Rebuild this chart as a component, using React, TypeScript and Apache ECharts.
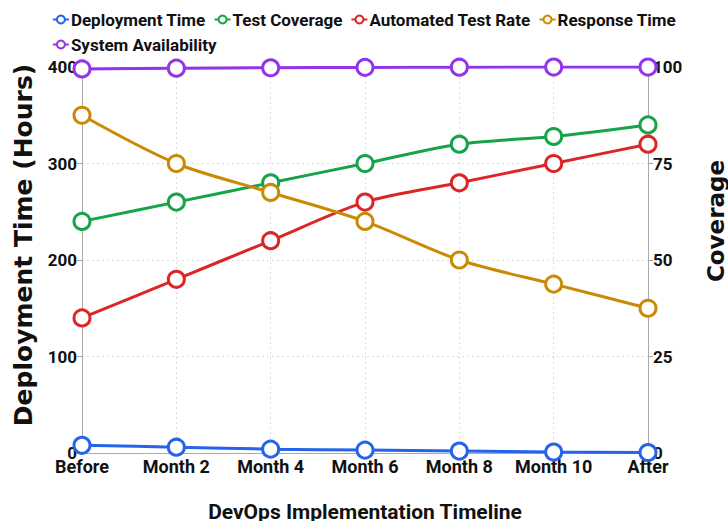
import React, { useEffect, useRef } from "react";
import * as echarts from "echarts";

// Timeline categories
const categories = ["Before", "Month 2", "Month 4", "Month 6", "Month 8", "Month 10", "After"];

// Left axis series (hours / ms scale 0-400)
const deploymentTime = [8, 6, 4, 3, 2, 1, 0.5];
const responseTime = [350, 300, 270, 240, 200, 175, 150];

// Right axis series (percent 0-100)
const testCoverage = [60, 65, 70, 75, 80, 82, 85];
const automatedTestRate = [35, 45, 55, 65, 70, 75, 80];
const systemAvailability = [99.5, 99.7, 99.8, 99.9, 99.95, 99.99, 99.99];

const NARROW = "Roboto, 'Noto Sans', sans-serif";
const WIDE = "'DejaVu Sans', Verdana, sans-serif";

const COLORS = {
  blue: "#2563eb",
  green: "#16a34a",
  red: "#dc2626",
  orange: "#ca8a04",
  purple: "#9333ea",
};

function lineSeries(name: string, data: number[], color: string, yAxisIndex: number) {
  return {
    name,
    type: "line",
    data,
    yAxisIndex,
    smooth: 0.3,
    symbol: "circle",
    symbolSize: 16,
    lineStyle: { color, width: 3 },
    itemStyle: { color: "#ffffff", borderColor: color, borderWidth: 3 },
    emphasis: { disabled: true },
  };
}

export default function App() {
  const ref = useRef<HTMLDivElement>(null);

  useEffect(() => {
    if (!ref.current) return;
    const chart = echarts.init(ref.current, undefined, { renderer: "svg" });
    const axisLabelStyle = {
      color: "#111",
      fontFamily: NARROW,
      fontWeight: "bold" as const,
      fontSize: 18,
    };
    chart.setOption({
      animation: false,
      backgroundColor: "#ffffff",
      legend: {
        top: 6,
        left: "center",
        itemGap: 8,
        itemWidth: 16,
        itemHeight: 10,
        textStyle: { color: "#111", fontFamily: NARROW, fontWeight: "bold", fontSize: 17, padding: [0, 0, 0, -3] },
        data: [
          "Deployment Time",
          "Test Coverage",
          "Automated Test Rate",
          "Response Time",
          "System Availability",
        ],
      },
      grid: {
        left: 82,
        right: 80,
        top: 67,
        bottom: 68,
        containLabel: false,
        outerBoundsMode: "none",
      },
      xAxis: {
        type: "category",
        data: categories,
        boundaryGap: false,
        name: "DevOps Implementation Timeline",
        nameLocation: "middle",
        nameGap: 48,
        nameTextStyle: { color: "#111", fontFamily: NARROW, fontWeight: "bold", fontSize: 21 },
        axisLine: { show: true, lineStyle: { color: "#aaa", width: 1 } },
        axisTick: { show: false },
        axisLabel: { ...axisLabelStyle, margin: 4, interval: 0 },
        splitLine: { show: true, interval: 0, lineStyle: { color: "#ddd", type: [2, 3] } },
      },
      yAxis: [
        {
          type: "value",
          min: 0,
          max: 400,
          interval: 100,
          name: "Deployment Time (Hours)",
          nameLocation: "middle",
          nameGap: 46,
          nameTextStyle: {
            color: "#111",
            fontFamily: WIDE,
            fontWeight: "bold",
            fontSize: 25,
            padding: [0, 0, 0, 30],
          },
          axisLine: { show: true, lineStyle: { color: "#aaa", width: 1 } },
          axisTick: { show: true, length: 5, lineStyle: { color: "#aaa" } },
          axisLabel: { ...axisLabelStyle, fontSize: 17, margin: 5 },
          splitLine: { show: true, lineStyle: { color: "#ddd", type: [2, 3] } },
        },
        {
          type: "value",
          min: 0,
          max: 100,
          interval: 25,
          position: "right",
          name: "Coverage",
          nameLocation: "middle",
          nameGap: 56,
          nameTextStyle: {
            color: "#111",
            fontFamily: WIDE,
            fontWeight: "bold",
            fontSize: 23,
            padding: [0, 0, 0, 78],
          },
          axisLine: { show: true, lineStyle: { color: "#aaa", width: 1 } },
          axisTick: { show: true, length: 5, lineStyle: { color: "#aaa" } },
          axisLabel: { ...axisLabelStyle, fontSize: 17, margin: 5 },
          splitLine: { show: false },
        },
      ],
      series: [
        lineSeries("Deployment Time", deploymentTime, COLORS.blue, 0),
        lineSeries("Test Coverage", testCoverage, COLORS.green, 1),
        lineSeries("Automated Test Rate", automatedTestRate, COLORS.red, 1),
        lineSeries("Response Time", responseTime, COLORS.orange, 0),
        lineSeries("System Availability", systemAvailability, COLORS.purple, 1),
      ],
    });
    return () => chart.dispose();
  }, []);

  return (
    <div
      ref={ref}
      style={{ position: "fixed", left: 0, top: 0, width: 728, height: 521, background: "#fff" }}
    />
  );
}
